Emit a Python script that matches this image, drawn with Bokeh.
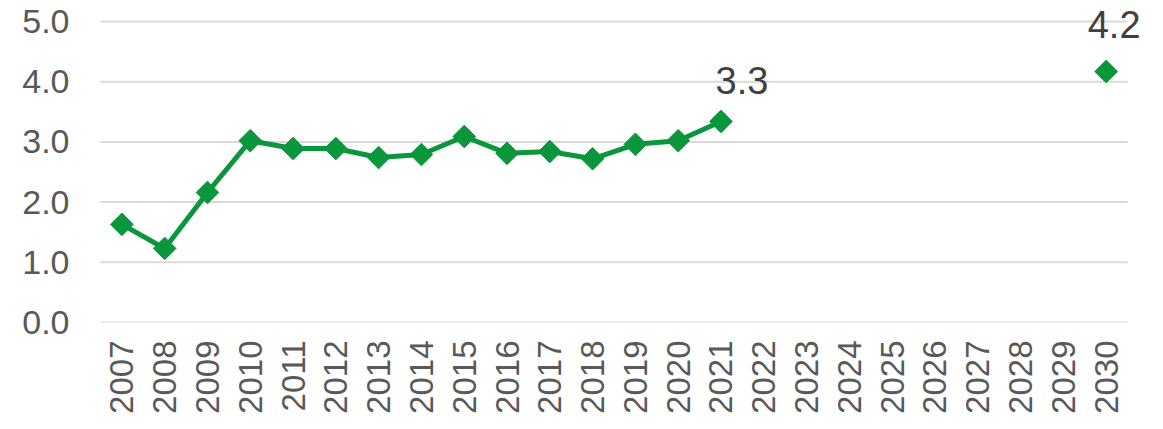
import math
from bokeh.plotting import figure
from bokeh.models import FactorRange, Range1d, FixedTicker, PrintfTickFormatter, ColumnDataSource
from bokeh.core.properties import value
from bokeh.embed import file_html
from bokeh.resources import INLINE

years = [str(y) for y in range(2007, 2031)]
hist_years = [str(y) for y in range(2007, 2022)]
hist_values = [1.63, 1.23, 2.16, 3.02, 2.89, 2.89, 2.74, 2.79, 3.09, 2.81, 2.84, 2.72, 2.96, 3.02, 3.34]
target_years = ["2030"]
target_values = [4.17]
label_years = ["2021", "2030"]
label_values = [3.34, 4.17]
label_texts = ["3.3", "4.2"]
y_ticks = [0, 1, 2, 3, 4, 5]

GREEN = "#0A963A"
FONT = "Liberation Sans"

x_range = FactorRange(*years, range_padding=0.654, range_padding_units="absolute")
p = figure(width=1155, height=425, x_range=x_range,
           y_range=Range1d(0, 5.349), output_backend="svg", toolbar_location=None,
           min_border_left=72, min_border_right=0, min_border_top=0, min_border_bottom=103)
p.outline_line_color = None
p.xgrid.grid_line_color = None
p.ygrid.grid_line_color = None

# horizontal gridlines spanning only the category extent
n = len(years)
p.segment(x0=[0] * len(y_ticks), x1=[n] * len(y_ticks), y0=y_ticks, y1=y_ticks,
          line_color="#d9d9d9", line_width=2)

p.yaxis.ticker = FixedTicker(ticks=y_ticks)
p.yaxis.formatter = PrintfTickFormatter(format="%.1f")
p.yaxis.axis_line_color = None
p.yaxis.major_tick_line_color = None
p.yaxis.minor_tick_line_color = None
p.yaxis.major_tick_out = 0
p.yaxis.major_label_text_font = FONT
p.yaxis.major_label_text_font_size = "34px"
p.yaxis.major_label_text_color = "#595959"
p.yaxis.major_label_standoff = 3

p.xaxis.axis_line_color = None
p.xaxis.major_tick_line_color = None
p.xaxis.minor_tick_line_color = None
p.xaxis.major_tick_out = 0
p.xaxis.major_label_orientation = math.pi / 2
p.xaxis.major_label_text_font = FONT
p.xaxis.major_label_text_font_size = "33px"
p.xaxis.major_label_text_color = "#595959"
p.xaxis.major_label_standoff = 18

hist = ColumnDataSource(dict(x=hist_years, y=hist_values))
p.line("x", "y", source=hist, line_color=GREEN, line_width=5)
p.scatter("x", "y", source=hist, marker="square", angle=math.pi / 4, size=16,
          fill_color=GREEN, line_color=GREEN)
p.scatter(target_years, target_values, marker="square", angle=math.pi / 4, size=16,
          fill_color=GREEN, line_color=GREEN)

p.text([label_years[0]], [label_values[0]], text=[label_texts[0]], x_offset=21, y_offset=-41,
       text_align="center", text_baseline="alphabetic", text_font=value(FONT),
       text_font_size="38px", text_color="#404040")
p.text([label_years[1]], [label_values[1]], text=[label_texts[1]], x_offset=8, y_offset=-47,
       text_align="center", text_baseline="alphabetic", text_font=value(FONT),
       text_font_size="38px", text_color="#404040")

open("out.html", "w").write(file_html(p, INLINE))
